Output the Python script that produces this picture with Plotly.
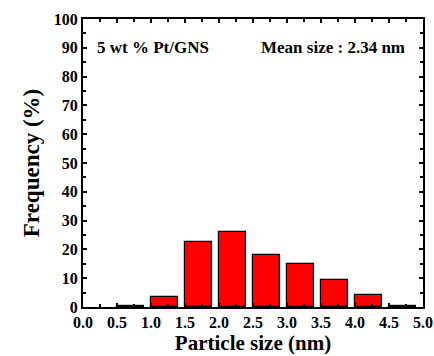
import plotly.graph_objects as go

bin_starts = [0.5, 1.0, 1.5, 2.0, 2.5, 3.0, 3.5, 4.0, 4.5]
frequency = [0.2, 3.5, 22.5, 26.0, 18.0, 15.0, 9.5, 4.0, 0.2]
x_ticks = [0.0, 0.5, 1.0, 1.5, 2.0, 2.5, 3.0, 3.5, 4.0, 4.5, 5.0]
y_ticks = [0, 10, 20, 30, 40, 50, 60, 70, 80, 90, 100]
sample_label = "5 wt % Pt/GNS"
mean_label = "Mean size : 2.34 nm"

font_family = "Liberation Serif, Times New Roman, serif"

fig = go.Figure()
fig.add_trace(go.Bar(
    x=bin_starts, y=frequency, offset=0, width=0.4,
    marker=dict(color="#ff0000", line=dict(color="black", width=1.2)),
    showlegend=False,
))

axis_common = dict(
    showline=True, linecolor="black", linewidth=2, mirror="ticks",
    ticks="inside", tickcolor="black", tickwidth=2, ticklen=4,
    showgrid=False, zeroline=False, automargin=False,
    tickfont=dict(family=font_family, size=16, color="black"),
)

fig.update_xaxes(
    range=[0, 5], tickmode="array", tickvals=x_ticks,
    ticktext=["<b>%.1f</b>" % v for v in x_ticks],
    minor=dict(dtick=0.25, tick0=0, ticks="inside", ticklen=3, tickwidth=2, tickcolor="black"),
    title=dict(text="<b>Particle size (nm)</b>", font=dict(family=font_family, size=21, color="black"), standoff=2),
    **axis_common,
)
fig.update_yaxes(
    range=[0, 100], tickmode="array", tickvals=y_ticks,
    ticktext=["<b>%d</b>" % v for v in y_ticks],
    minor=dict(dtick=5, tick0=0, ticks="inside", ticklen=3, tickwidth=2, tickcolor="black"),
    title=dict(text="<b>Frequency (%)</b>", font=dict(family=font_family, size=23, color="black"), standoff=8),
    **axis_common,
)

fig.add_annotation(x=0.036, y=90, xref="paper", yref="y", text="<b>%s</b>" % sample_label, showarrow=False,
                   xanchor="left", yanchor="middle",
                   font=dict(family=font_family, size=17, color="black"))
fig.add_annotation(x=0.953, y=90, xref="paper", yref="y", text="<b>%s</b>" % mean_label, showarrow=False,
                   xanchor="right", yanchor="middle",
                   font=dict(family=font_family, size=17, color="black"))

fig.update_layout(
    width=434, height=356,
    margin=dict(l=83, r=11, t=19, b=49),
    plot_bgcolor="white", paper_bgcolor="white",
    bargap=0,
)

fig.write_html("out.html")
